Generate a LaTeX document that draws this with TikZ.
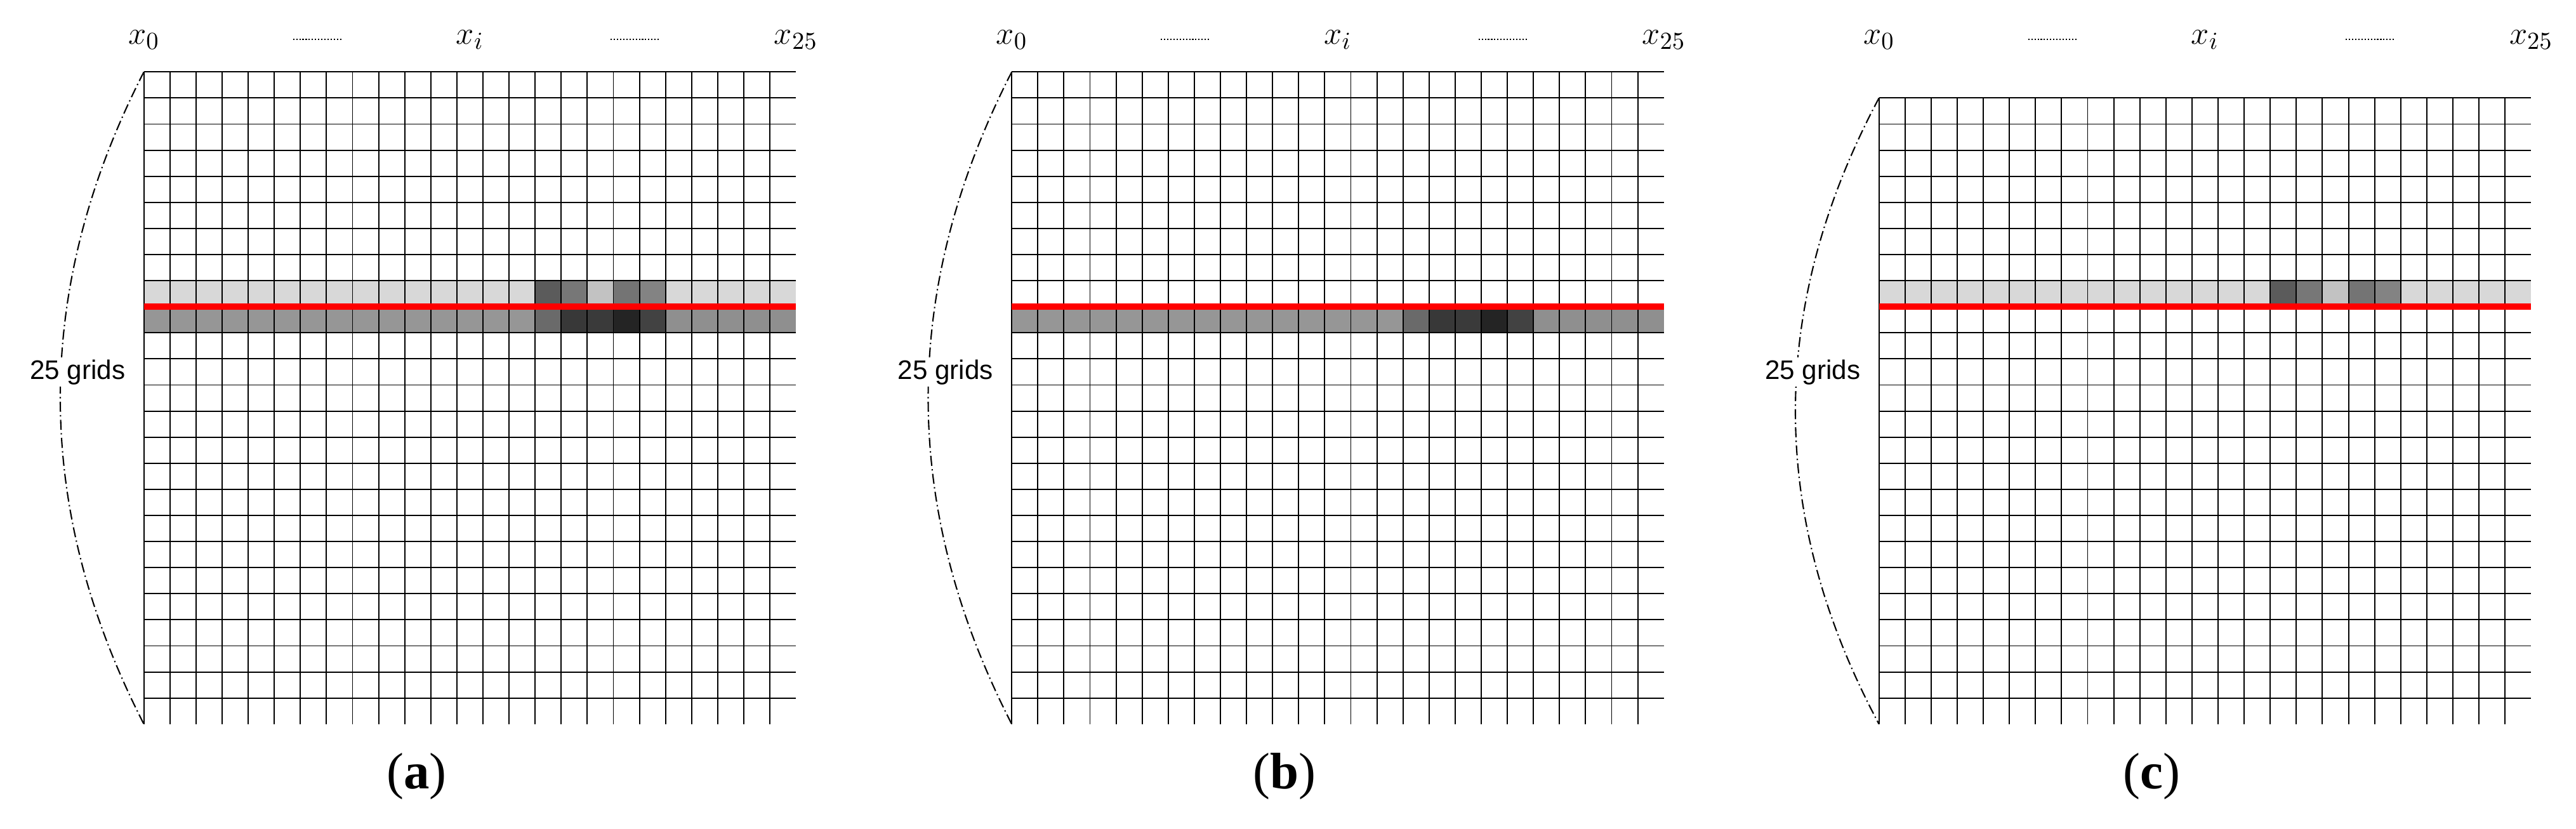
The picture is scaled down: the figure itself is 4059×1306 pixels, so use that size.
\documentclass[tikz,border=0pt]{standalone}
\usepackage{fontspec}
\newfontfamily\labsans{Liberation Sans}
\newfontfamily\labserif{Liberation Serif}
\definecolor{ltg}{HTML}{D8D8D8}
\definecolor{mdg}{HTML}{969696}
\definecolor{mdgb}{HTML}{8F8F8F}
\definecolor{tA}{HTML}{5B5B5B}
\definecolor{tB}{HTML}{777777}
\definecolor{tC}{HTML}{C2C2C2}
\definecolor{tD}{HTML}{747474}
\definecolor{tE}{HTML}{838383}
\definecolor{bA}{HTML}{6A6A6A}
\definecolor{bB}{HTML}{383838}
\definecolor{bC}{HTML}{3A3A3A}
\definecolor{bD}{HTML}{242424}
\definecolor{bE}{HTML}{424242}
\def\cw{41.1}
\def\ty{113.3}
\begin{document}
\begin{tikzpicture}[x=0.01cm,y=-0.01cm,
  gridline/.style={line width=0.55pt, black},
  redline/.style={line width=2.85pt, red},
  dotline/.style={line width=0.5pt, dash pattern=on 0.6pt off 0.8pt},
  curveline/.style={line width=0.6pt, dash pattern=on 4.5pt off 1.5pt on 0.6pt off 1.5pt},
  xlab/.style={anchor=base, font=\fontsize{15.4}{18}\selectfont, inner sep=0pt},
  gridlab/.style={anchor=base east, font=\labsans\fontsize{12}{14}\selectfont, fill=white, inner sep=1pt},
  panlab/.style={anchor=base, font=\labserif\fontsize{23}{27}\selectfont, inner sep=0pt}]
\useasboundingbox (0,0) rectangle (4059,1306);

% ---------------- panel (a)
\begin{scope}[shift={(226.7,0)}]
  \fill[ltg] (0,{\ty+8*\cw}) rectangle ({25*\cw},{\ty+9*\cw});
  \fill[mdg] (0,{\ty+9*\cw}) rectangle ({20*\cw},{\ty+10*\cw});
  \fill[mdgb] ({20*\cw},{\ty+9*\cw}) rectangle ({25*\cw},{\ty+10*\cw});
  \foreach \j/\c in {15/tA,16/tB,17/tC,18/tD,19/tE}
    \fill[\c] ({\j*\cw},{\ty+8*\cw}) rectangle ({(\j+1)*\cw},{\ty+9*\cw});
  \foreach \j/\c in {15/bA,16/bB,17/bC,18/bD,19/bE}
    \fill[\c] ({\j*\cw},{\ty+9*\cw}) rectangle ({(\j+1)*\cw},{\ty+10*\cw});
  \foreach \k in {0,...,24}
    \draw[gridline] (0,{\ty+\k*\cw}) -- ({25*\cw},{\ty+\k*\cw});
  \foreach \j in {0,...,24}
    \draw[gridline] ({\j*\cw},\ty) -- ({\j*\cw},{\ty+25*\cw});
  \coordinate (a-rl) at (0,{\ty+9*\cw});
  \coordinate (a-rr) at ({25*\cw},{\ty+9*\cw});
  \draw[redline] (a-rl) -- (a-rr);
  \coordinate (a-top) at (0,\ty);
  \coordinate (a-bot) at (0,{\ty+25*\cw});
  \draw[curveline] (a-top) .. controls (-175.6,455.8) and (-175.6,798.5) .. (a-bot);
  \node[gridlab] (a-grids) at (-25,597) {25 grids};
  \node[xlab] (a-x0) at (0,70) {$x_0$};
  \node[xlab] (a-xi) at ({12.5*\cw},70) {$x_i$};
  \node[xlab] (a-x25) at ({25*\cw},70) {$x_{25}$};
  \coordinate (a-d1s) at (235,62);
  \coordinate (a-d1e) at (313.3,62);
  \coordinate (a-d2s) at (735.5,62);
  \coordinate (a-d2e) at (814,62);
  \draw[dotline] (a-d1s) -- (a-d1e);
  \draw[dotline] (a-d2s) -- (a-d2e);
  \node[panlab] (a-lab) at (430,1242) {({\bfseries a})};
\end{scope}

% ---------------- panel (b)
\begin{scope}[shift={(1594.2,0)}]
  \fill[mdg] (0,{\ty+9*\cw}) rectangle ({20*\cw},{\ty+10*\cw});
  \fill[mdgb] ({20*\cw},{\ty+9*\cw}) rectangle ({25*\cw},{\ty+10*\cw});
  \foreach \j/\c in {15/bA,16/bB,17/bC,18/bD,19/bE}
    \fill[\c] ({\j*\cw},{\ty+9*\cw}) rectangle ({(\j+1)*\cw},{\ty+10*\cw});
  \foreach \k in {0,...,24}
    \draw[gridline] (0,{\ty+\k*\cw}) -- ({25*\cw},{\ty+\k*\cw});
  \foreach \j in {0,...,24}
    \draw[gridline] ({\j*\cw},\ty) -- ({\j*\cw},{\ty+25*\cw});
  \coordinate (b-rl) at (0,{\ty+9*\cw});
  \coordinate (b-rr) at ({25*\cw},{\ty+9*\cw});
  \draw[redline] (b-rl) -- (b-rr);
  \coordinate (b-top) at (0,\ty);
  \coordinate (b-bot) at (0,{\ty+25*\cw});
  \draw[curveline] (b-top) .. controls (-175.6,455.8) and (-175.6,798.5) .. (b-bot);
  \node[gridlab] (b-grids) at (-25,597) {25 grids};
  \node[xlab] (b-x0) at (0,70) {$x_0$};
  \node[xlab] (b-xi) at ({12.5*\cw},70) {$x_i$};
  \node[xlab] (b-x25) at ({25*\cw},70) {$x_{25}$};
  \coordinate (b-d1s) at (235,62);
  \coordinate (b-d1e) at (313.3,62);
  \coordinate (b-d2s) at (735.5,62);
  \coordinate (b-d2e) at (814,62);
  \draw[dotline] (b-d1s) -- (b-d1e);
  \draw[dotline] (b-d2s) -- (b-d2e);
  \node[panlab] (b-lab) at (430,1242) {({\bfseries b})};
\end{scope}

% ---------------- panel (c)
\begin{scope}[shift={(2960.7,0)}]
  \fill[ltg] (0,{\ty+8*\cw}) rectangle ({25*\cw},{\ty+9*\cw});
  \foreach \j/\c in {15/tA,16/tB,17/tC,18/tD,19/tE}
    \fill[\c] ({\j*\cw},{\ty+8*\cw}) rectangle ({(\j+1)*\cw},{\ty+9*\cw});
  \foreach \k in {1,...,24}
    \draw[gridline] (0,{\ty+\k*\cw}) -- ({25*\cw},{\ty+\k*\cw});
  \foreach \j in {0,...,24}
    \draw[gridline] ({\j*\cw},{\ty+\cw}) -- ({\j*\cw},{\ty+25*\cw});
  \coordinate (c-rl) at (0,{\ty+9*\cw});
  \coordinate (c-rr) at ({25*\cw},{\ty+9*\cw});
  \draw[redline] (c-rl) -- (c-rr);
  \coordinate (c-top) at (0,{\ty+\cw});
  \coordinate (c-bot) at (0,{\ty+25*\cw});
  \draw[curveline] (c-top) .. controls (-175.6,483.5) and (-175.6,812.8) .. (c-bot);
  \node[gridlab] (c-grids) at (-25,597) {25 grids};
  \node[xlab] (c-x0) at (0,70) {$x_0$};
  \node[xlab] (c-xi) at ({12.5*\cw},70) {$x_i$};
  \node[xlab] (c-x25) at ({25*\cw},70) {$x_{25}$};
  \coordinate (c-d1s) at (235,62);
  \coordinate (c-d1e) at (313.3,62);
  \coordinate (c-d2s) at (735.5,62);
  \coordinate (c-d2e) at (814,62);
  \draw[dotline] (c-d1s) -- (c-d1e);
  \draw[dotline] (c-d2s) -- (c-d2e);
  \node[panlab] (c-lab) at (430,1242) {({\bfseries c})};
\end{scope}
\end{tikzpicture}
\end{document}
